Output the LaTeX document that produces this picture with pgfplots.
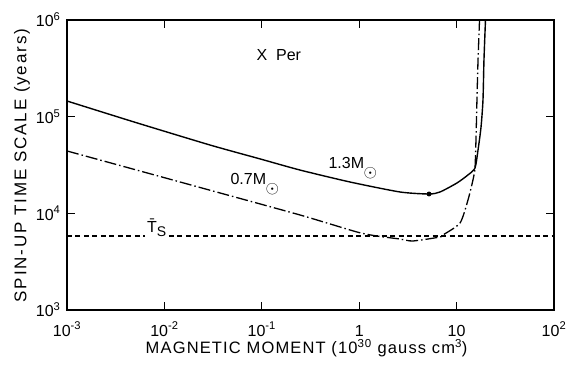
\documentclass[border=0pt]{standalone}
\usepackage{fontspec}
\setmainfont{Liberation Sans}
\usepackage{pgfplots}
\pgfplotsset{compat=1.18}

% Spin-up time scale versus magnetic moment (log-log)
\pgfplotstableread{
x       y
0.001   145200
0.00488 88100
0.0294  50900
0.0959  36560
0.2466  28050
0.805   21090
2.624   16630
5.21    15850
6.76    16630
10.09   20610
13.09   24950
15.45   29440
16.6    45190
17.82   78160
18.66   148600
19.1    385500
19.8    1000000
}\heavystar

\pgfplotstableread{
x       y
0.001   44160
0.00488 28510
0.0294  17340
0.2466  9616
0.948   6412
1.53    5820
2.624   5420
3.565   5176
6.76    5690
7.24    5970
10.84   7943
13.09   13740
14.72   22130
15.45   29440
15.81   57410
16.18   148600
16.6    385500
17.2    1000000
}\lightstar

\newcommand{\sunsub}{\kern-0.5pt\raisebox{-9.5pt}{$\odot$}}

\begin{document}
\begin{tikzpicture}[font=\fontsize{16}{18}\selectfont]
\useasboundingbox (-67pt,-60pt) rectangle (500pt,310pt);
\begin{axis}[
  scale only axis, width=487pt, height=290pt,
  xmode=log, ymode=log,
  xmin=1e-3, xmax=1e2, ymin=1e3, ymax=1e6,
  xminorticks=false, yminorticks=false,
  axis line style={line width=1.1pt},
  every tick/.style={black, line width=1pt},
  major tick length=8pt,
  tick align=inside,
  xtick={1e-3,1e-2,1e-1,1,10,100},
  xticklabels={10\textsuperscript{-3},10\textsuperscript{-2},10\textsuperscript{-1},1,10,10\textsuperscript{2}},
  ytick={1e3,1e4,1e5,1e6},
  yticklabels={10\textsuperscript{3},10\textsuperscript{4},10\textsuperscript{5},10\textsuperscript{6}},
  xticklabel style={font=\fontsize{16}{18}\selectfont, anchor=base,
    inner sep=1pt, yshift=-26pt},
  yticklabel style={font=\fontsize{16}{18}\selectfont, xshift=-3pt},
  xlabel={\addfontfeature{LetterSpace=7}MAGNETIC MOMENT (10\textsuperscript{30} gauss cm\textsuperscript{3})},
  ylabel={\addfontfeature{LetterSpace=11}SPIN-UP TIME SCALE (years)},
  xlabel style={font=\fontsize{16.5}{18}\selectfont, inner sep=0.5pt,
    at={(axis description cs:0.492,-0.150)}, anchor=base},
  ylabel style={font=\fontsize{17}{19}\selectfont,
    at={(axis description cs:-0.0924,0.498)}, anchor=center},
]
\addplot[black, line width=1.4pt, smooth, tension=0.4] table {\heavystar};
\addplot[black, line width=1.3pt, smooth, tension=0.4,
  dash pattern=on 12pt off 3pt on 1.5pt off 3pt] table {\lightstar};
\addplot[black, line width=1.2pt, dash pattern=on 5pt off 3.5pt]
  coordinates {(0.001,5820) (100,5820)};
\addplot[black, only marks, mark=*, mark size=2.2pt] coordinates {(5.21,15850)};

\node[anchor=west] at (axis cs:0.0813,4.35e5) {X\ \ Per};
\node[anchor=base west] at (axis cs:0.446,29400) {1.3M\sunsub};
\node[anchor=base west] at (axis cs:0.044,20100) {0.7M\sunsub};
\node[fill=white, inner sep=2pt, anchor=base west] at (axis cs:0.00632,6410)
  {\={T}\raisebox{-4pt}{\fontsize{14}{16}\selectfont S}};
\end{axis}
\end{tikzpicture}
\end{document}
